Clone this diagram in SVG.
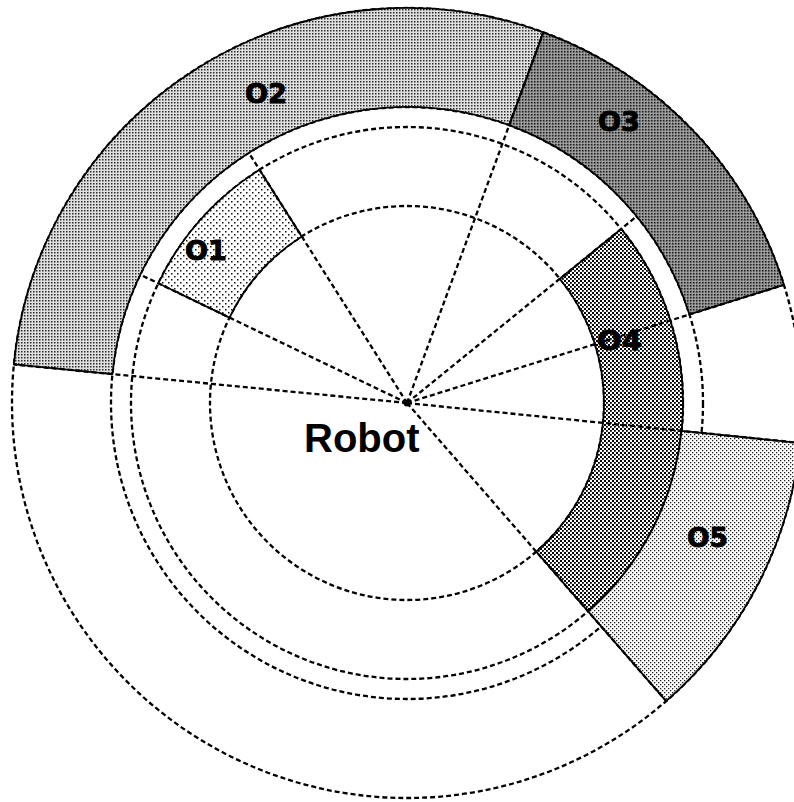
<svg xmlns="http://www.w3.org/2000/svg" width="794" height="802" viewBox="0 0 794 802">
  <defs>
    <pattern id="p-o1" width="6" height="6" patternUnits="userSpaceOnUse">
      <rect width="6" height="6" fill="#ffffff"/>
      <rect x="0" y="0" width="1.5" height="1.5" fill="#111"/>
      <rect x="3" y="3" width="1.5" height="1.5" fill="#111"/>
    </pattern>
    <pattern id="p-o2" width="3" height="3" patternUnits="userSpaceOnUse">
      <rect width="3" height="3" fill="#e0e0e0"/>
      <rect x="0" y="0" width="1.5" height="1.5" fill="#2a2a2a"/>
    </pattern>
    <pattern id="p-o3" width="3" height="3" patternUnits="userSpaceOnUse">
      <rect width="3" height="3" fill="#8e8e8e"/>
      <rect x="0" y="0" width="1.5" height="1.5" fill="#222"/>
      <rect x="1.8" y="1.8" width="0.8" height="0.8" fill="#e0e0e0"/>
    </pattern>
    <pattern id="p-o4" width="4" height="4" patternUnits="userSpaceOnUse">
      <rect width="4" height="4" fill="#ffffff"/>
      <rect x="0" y="0" width="2" height="2" fill="#000"/>
      <rect x="2" y="2" width="1.8" height="1.8" fill="#000"/>
    </pattern>
    <pattern id="p-o5" width="4" height="4" patternUnits="userSpaceOnUse">
      <rect width="4" height="4" fill="#ffffff"/>
      <rect x="0" y="0" width="1.3" height="1.3" fill="#222"/>
      <rect x="2" y="2" width="1.3" height="1.3" fill="#222"/>
    </pattern>
  </defs>
  <style>
    .ring { fill: none; stroke: #000; stroke-width: 2.3; stroke-dasharray: 5 3; }
    .ray { fill: none; stroke: #000; stroke-width: 2.3; stroke-dasharray: 5 3; }
    .sector { stroke: #000; stroke-width: 1.8; stroke-linejoin: round; }
    .lbl { font-family: "DejaVu Sans", "Liberation Sans", sans-serif; font-weight: bold; font-size: 26px; fill: #000; stroke: #000; stroke-width: 0.9; }
    .robot { font-family: "Liberation Sans", Arial, sans-serif; font-weight: bold; font-size: 40px; fill: #000; }
  </style>
  <rect width="794" height="802" fill="#ffffff"/>

  <g id="rings">
    <circle class="ring" cx="407" cy="403" r="197"/>
    <circle class="ring" cx="407" cy="403" r="276"/>
    <circle class="ring" cx="407" cy="403" r="296"/>
    <circle class="ring" cx="407" cy="403" r="395"/>
  </g>

  <g id="O1">
    <path class="sector" fill="url(#p-o1)" d="M301.73,236.48 L259.52,169.71 A276,276 0 0 0 158.30,283.31 L229.49,317.57 A197,197 0 0 1 301.73,236.48 Z"/>
  </g>
  <g id="O2">
    <path class="sector" fill="url(#p-o2)" d="M509.21,125.21 L543.39,32.30 A395,395 0 0 0 13.88,364.46 L112.41,374.12 A296,296 0 0 1 509.21,125.21 Z"/>
  </g>
  <g id="O3">
    <path class="sector" fill="url(#p-o3)" d="M689.46,314.48 L783.92,284.88 A395,395 0 0 0 543.39,32.30 L509.21,125.21 A296,296 0 0 1 689.46,314.48 Z"/>
  </g>
  <g id="O4">
    <path class="sector" fill="url(#p-o4)" d="M536.24,551.68 L588.07,611.30 A276,276 0 0 0 621.19,228.93 L559.88,278.76 A197,197 0 0 1 536.24,551.68 Z"/>
  </g>
  <g id="O5">
    <path class="sector" fill="url(#p-o5)" d="M588.07,611.30 L666.14,701.11 A395,395 0 0 0 799.98,442.92 L681.59,430.89 A276,276 0 0 1 588.07,611.30 Z"/>
  </g>

  <g id="connectors">
    <line class="ray" x1="407" y1="403" x2="13.88" y2="364.46"/>
    <line class="ray" x1="407" y1="403" x2="140.28" y2="274.64"/>
    <line class="ray" x1="407" y1="403" x2="248.83" y2="152.80"/>
    <line class="ray" x1="407" y1="403" x2="543.39" y2="32.30"/>
    <line class="ray" x1="407" y1="403" x2="636.71" y2="216.32"/>
    <line class="ray" x1="407" y1="403" x2="783.92" y2="284.88"/>
    <line class="ray" x1="407" y1="403" x2="799.98" y2="442.92"/>
    <line class="ray" x1="407" y1="403" x2="666.14" y2="701.11"/>
  </g>

  <g id="labels">
    <text class="lbl" x="185" y="260" textLength="42" lengthAdjust="spacingAndGlyphs">O1</text>
    <text class="lbl" x="245" y="103" textLength="42" lengthAdjust="spacingAndGlyphs">O2</text>
    <text class="lbl" x="598" y="131" textLength="42" lengthAdjust="spacingAndGlyphs">O3</text>
    <text class="lbl" x="597" y="350" textLength="45" lengthAdjust="spacingAndGlyphs">O4</text>
    <text class="lbl" x="687" y="547" textLength="41" lengthAdjust="spacingAndGlyphs">O5</text>
  </g>

  <g id="robot">
    <circle cx="407" cy="403" r="3.5" fill="#000"/>
    <text class="robot" x="304" y="452">Robot</text>
  </g>
</svg>
